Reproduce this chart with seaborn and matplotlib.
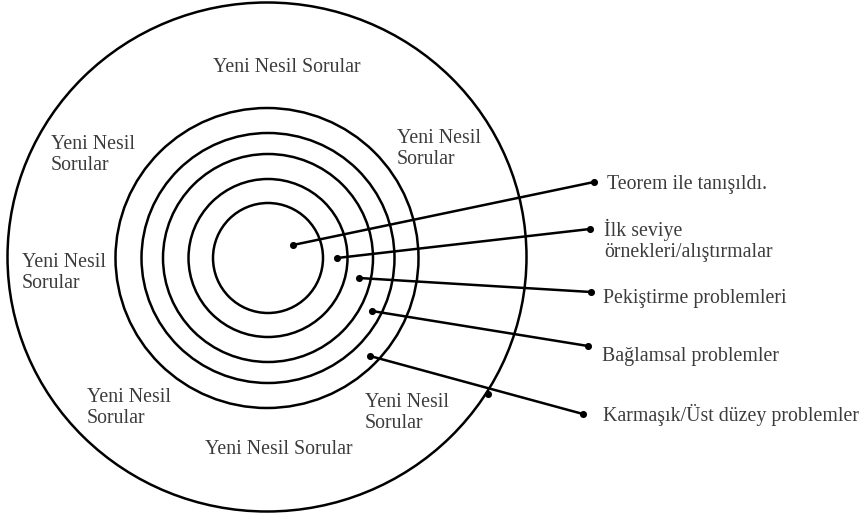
import matplotlib
matplotlib.use("Agg")
import matplotlib.pyplot as plt
from matplotlib.patches import Ellipse
import seaborn as sns
import pandas as pd

sns.set_theme(style="white")
plt.rcParams['font.family'] = ['Liberation Serif', 'DejaVu Serif']

# ---- data ----
ring_names = ["Teorem", "Ilk seviye", "Pekistirme", "Baglamsal", "Karmasik", "Yeni Nesil"]
ring_width = [110, 159, 210, 253, 303, 519]
ring_height = [110, 158, 208, 250, 300, 509]
center_x = [268, 268, 268, 268, 267, 267]
center_y = [258, 258, 258, 258, 258, 257]

stage_labels = ["Teorem ile tanışıldı.",
                "İlk seviye\nörnekleri/alıştırmalar",
                "Pekiştirme problemleri",
                "Bağlamsal problemler",
                "Karmaşık/Üst düzey problemler"]
pointer_start_x = [293, 337, 359, 372, 370]
pointer_start_y = [245, 258, 278, 311, 356]
pointer_end_x = [594, 590, 591, 588, 583]
pointer_end_y = [182, 229, 292, 346, 414]
outer_mark_x = [488]
outer_mark_y = [394]

outer_text = "Yeni Nesil Sorular"
outer_text_short = "Yeni Nesil\nSorular"

# ---- layout ----
label_x = [607, 604, 603, 602, 603]
label_y = [184, 240, 298, 356, 415]

fig = plt.figure(figsize=(8.65, 5.2), dpi=100)
ax = fig.add_axes([0, 0, 1, 1])
ax.set_xlim(0, 865)
ax.set_ylim(520, 0)
ax.axis("off")

for w, h, cx, cy in zip(ring_width, ring_height, center_x, center_y):
    ax.add_patch(Ellipse((cx, cy), w, h, fill=False, edgecolor="black", lw=1.8))

segs = []
for i in range(len(stage_labels)):
    segs.append(pd.DataFrame({"x": [pointer_start_x[i], pointer_end_x[i]],
                              "y": [pointer_start_y[i], pointer_end_y[i]],
                              "seg": i}))
df_lines = pd.concat(segs, ignore_index=True)
sns.lineplot(data=df_lines, x="x", y="y", units="seg", estimator=None,
             color="black", lw=1.8, sort=False, ax=ax)

dots = pd.DataFrame({"x": pointer_start_x + pointer_end_x + outer_mark_x,
                     "y": pointer_start_y + pointer_end_y + outer_mark_y})
sns.scatterplot(data=dots, x="x", y="y", color="black", s=26, edgecolor="black",
                linewidth=0, ax=ax, zorder=5)

tcol = "#3c3c3c"
fs = 14.3
for lab, x, y in zip(stage_labels, label_x, label_y):
    ax.text(x, y, lab, ha="left", va="center", fontsize=fs, color=tcol, linespacing=1.15)

ax.text(287, 67, outer_text, ha="center", va="center", fontsize=fs, color=tcol)
ax.text(279, 450, outer_text, ha="center", va="center", fontsize=fs, color=tcol)
short_pos = [(51, 155), (397, 149), (22, 273), (87, 408), (365, 413)]
for x, y in short_pos:
    ax.text(x, y, outer_text_short, ha="left", va="center", fontsize=fs,
            color=tcol, linespacing=1.15)

ax.set_xlabel("")
ax.set_ylabel("")
fig.savefig("out.png", dpi=100, facecolor="white")
